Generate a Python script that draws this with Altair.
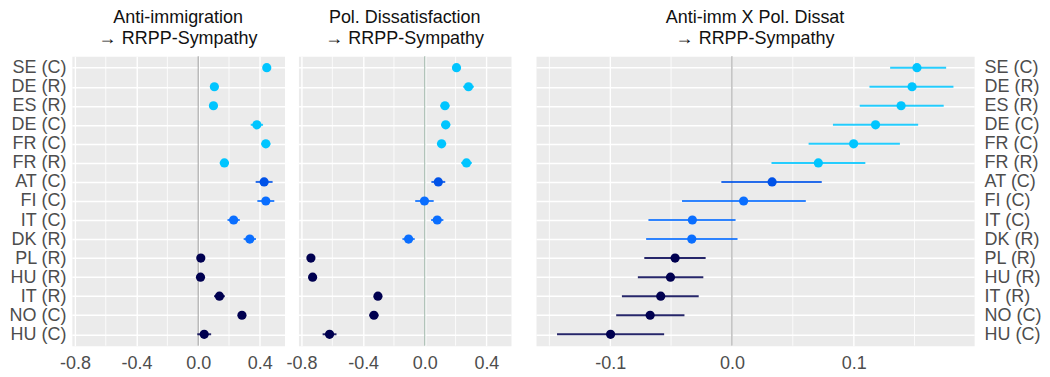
import altair as alt
import pandas as pd

labels = ["SE (C)", "DE (R)", "ES (R)", "DE (C)", "FR (C)", "FR (R)", "AT (C)",
          "FI (C)", "IT (C)", "DK (R)", "PL (R)", "HU (R)", "IT (R)", "NO (C)", "HU (C)"]
groups = ["a"] * 6 + ["b_at"] + ["b"] * 3 + ["c"] * 5

# Panel 1: Anti-immigration -> RRPP-Sympathy
p1_est = [0.445, 0.105, 0.099, 0.381, 0.439, 0.170, 0.428, 0.439, 0.230, 0.335, 0.017, 0.015, 0.138, 0.284, 0.039]
p1_lo = [0.425, 0.080, 0.074, 0.341, 0.409, 0.140, 0.373, 0.384, 0.190, 0.295, 0.002, 0.000, 0.103, 0.269, -0.006]
p1_hi = [0.465, 0.130, 0.124, 0.421, 0.469, 0.200, 0.483, 0.494, 0.270, 0.375, 0.032, 0.030, 0.173, 0.299, 0.084]

# Panel 2: Pol. Dissatisfaction -> RRPP-Sympathy
p2_est = [0.206, 0.284, 0.131, 0.136, 0.109, 0.271, 0.088, -0.002, 0.081, -0.105, -0.739, -0.728, -0.304, -0.330, -0.618]
p2_lo = [0.191, 0.249, 0.101, 0.106, 0.079, 0.236, 0.043, -0.062, 0.041, -0.145, -0.754, -0.748, -0.329, -0.360, -0.663]
p2_hi = [0.221, 0.319, 0.161, 0.166, 0.139, 0.306, 0.133, 0.058, 0.121, -0.065, -0.724, -0.708, -0.279, -0.300, -0.573]

# Panel 3: Anti-imm X Pol. Dissat -> RRPP-Sympathy
p3_est = [0.152, 0.148, 0.139, 0.118, 0.100, 0.071, 0.033, 0.0096, -0.0325, -0.033, -0.0467, -0.0505, -0.0585, -0.0672, -0.0997]
p3_lo = [0.130, 0.113, 0.105, 0.083, 0.063, 0.0325, -0.0087, -0.041, -0.0686, -0.0705, -0.072, -0.0773, -0.0904, -0.0951, -0.1437]
p3_hi = [0.176, 0.182, 0.174, 0.153, 0.138, 0.1096, 0.0738, 0.0607, 0.003, 0.0046, -0.0216, -0.0235, -0.0273, -0.039, -0.0557]

titles = [["Anti-immigration", " \u2192 RRPP-Sympathy"],
          ["Pol. Dissatisfaction", " \u2192 RRPP-Sympathy"],
          ["Anti-imm X Pol. Dissat", " \u2192 RRPP-Sympathy"]]

major12 = [-0.8, -0.4, 0.0, 0.4]
minor12 = [-0.6, -0.2, 0.2]
major3 = [-0.1, 0.0, 0.1]
minor3 = [-0.15, -0.05, 0.05, 0.15]
zero = [0.0]

FONT = "Liberation Sans"
cscale = alt.Scale(domain=["a", "b_at", "b", "c"],
                   range=["#00C5FF", "#0052E8", "#0A6EFF", "#000050"])


def panel(est, lo, hi, dom, major, minor, zero_col, title, yaxis, width):
    df = pd.DataFrame({"label": labels, "group": groups, "est": est, "lo": lo, "hi": hi})
    xscale = alt.Scale(domain=dom, nice=False, zero=False)
    xaxis = alt.Axis(values=major, grid=True, gridColor="white", gridWidth=1.4,
                     domain=False, ticks=False, labelFontSize=18, labelColor="#4D4D4D",
                     labelFont=FONT, labelPadding=9, labelFlush=False, title=None,
                     labelExpr="replace(format(datum.value, '.1f'), '\u2212', '-')")
    yenc = alt.Y("label:N", sort=labels, scale=alt.Scale(type="point", padding=0.6),
                 axis=yaxis, title=None)
    color = alt.Color("group:N", scale=cscale, legend=None)
    minor_layer = alt.Chart(pd.DataFrame({"v": minor})).mark_rule(
        color="white", strokeWidth=0.8).encode(
        x=alt.X("v:Q", scale=xscale, axis=xaxis, title=None))
    zero_layer = alt.Chart(pd.DataFrame({"v": zero})).mark_rule(
        color=zero_col, strokeWidth=1).encode(
        x=alt.X("v:Q", scale=xscale, title=None))
    bars = alt.Chart(df).mark_rule(strokeWidth=2, opacity=0.85).encode(
        x=alt.X("lo:Q", scale=xscale, title=None), x2="hi:Q", y=yenc, color=color)
    pts = alt.Chart(df).mark_circle(size=85, opacity=1).encode(
        x=alt.X("est:Q", scale=xscale, title=None), y=yenc, color=color)
    return alt.layer(minor_layer, zero_layer, bars, pts).properties(
        width=width, height=290,
        title=alt.TitleParams(text=title, fontSize=18, font=FONT, fontWeight="normal",
                              color="#111111", anchor="middle", frame="group",
                              lineHeight=21, offset=8))


ylab = dict(labelFontSize=18, labelColor="#4D4D4D", labelFont=FONT,
            domain=False, ticks=False, grid=True, gridColor="white", gridWidth=1.5,
            labelOverlap=False, title=None)

left = panel(p1_est, p1_lo, p1_hi, [-0.82, 0.56], major12, minor12, "#A0A0A0",
             titles[0], alt.Axis(orient="left", labelPadding=6, **ylab), 213)
mid = panel(p2_est, p2_lo, p2_hi, [-0.82, 0.56], major12, minor12, "#9DB5A8",
            titles[1], alt.Axis(labels=False, domain=False, ticks=False, grid=True,
                                gridColor="white", gridWidth=1.5, title=None), 213)
right = panel(p3_est, p3_lo, p3_hi, [-0.161, 0.199], major3, minor3, "#A0A0A0",
              titles[2], alt.Axis(orient="right", labelPadding=10, **ylab), 439)

inner = alt.hconcat(left, mid, spacing=0)
chart = alt.hconcat(inner, right, spacing=23).properties(
    padding={"left": 0, "top": 0, "right": 0, "bottom": 0}
).configure_view(fill="#EBEBEB", stroke="transparent").resolve_scale(color="shared")

chart.save("out.html", embed_options={"renderer": "svg", "actions": False})
